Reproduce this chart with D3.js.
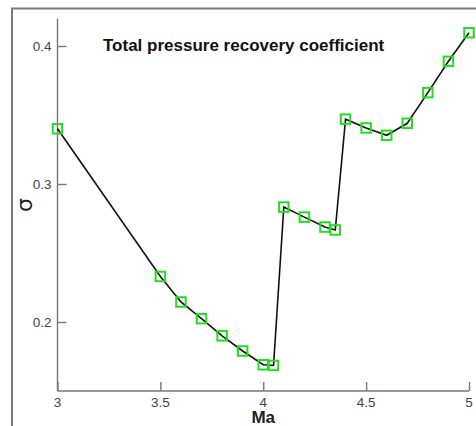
<!DOCTYPE html>
<html>
<head>
<meta charset="utf-8">
<script src="https://cdn.jsdelivr.net/npm/d3@7/dist/d3.min.js"></script>
<style>
  html, body { margin: 0; padding: 0; background: #fff; }
  svg { display: block; }
</style>
</head>
<body>
<script>
// Mach number and total pressure recovery coefficient
const mach  = [3.0, 3.5, 3.6, 3.7, 3.8, 3.9, 4.0, 4.05, 4.1, 4.2, 4.3, 4.35, 4.4, 4.5, 4.6, 4.7, 4.8, 4.9, 5.0];
const sigma = [0.340, 0.233, 0.2145, 0.2024, 0.190, 0.179, 0.169, 0.1685, 0.2833, 0.276, 0.2688, 0.2667, 0.347, 0.3406, 0.3353, 0.344, 0.3662, 0.3889, 0.4096];

const xMajor = [3, 3.5, 4, 4.5, 5];
const xMinor = d3.range(30, 51).map(v => v / 10);
const yMajor = [0.2, 0.3, 0.4];
const yMinor = d3.range(8, 22).map(v => v / 50);
const xTickLabels = ["3", "3.5", "4", "4.5", "5"];
const yTickLabels = ["0.2", "0.3", "0.4"];

const W = 476, H = 426;
const svg = d3.select("body").append("svg").attr("width", W).attr("height", H);

// figure frame
svg.append("rect").attr("x", 12).attr("y", 8.5).attr("width", W).attr("height", H)
  .attr("fill", "none").attr("stroke", "#7a7a7a").attr("stroke-width", 2);

const x = d3.scaleLinear().domain([3, 5]).range([57.5, 469]);
const y = d3.scaleLinear().domain([0.15, 0.42]).range([391, 18.4]);

const axisColor = "#777";
const textColor = "#444";
const font = "Liberation Sans, Arial, sans-serif";

// x axis (ticks pointing inward)
const gx = svg.append("g").attr("transform", `translate(0,${y(0.15)})`);
gx.call(d3.axisTop(x).tickValues(xMinor).tickSize(5).tickFormat(""));
gx.call(d3.axisTop(x).tickValues(xMajor).tickSize(9).tickFormat(""));
gx.selectAll("path, line").attr("stroke", axisColor).attr("stroke-width", 1.4);
gx.selectAll(".domain").attr("d", `M${x(3)},0H${x(5)}`);
svg.append("g").selectAll("text").data(xMajor).join("text")
  .attr("x", d => x(d)).attr("y", y(0.15) + 15.5)
  .attr("text-anchor", "middle")
  .attr("font-family", font).attr("font-size", 13.5)
  .attr("fill", textColor)
  .text((d, i) => xTickLabels[i]);

// y axis (ticks pointing inward)
const gy = svg.append("g").attr("transform", `translate(${x(3)},0)`);
gy.call(d3.axisRight(y).tickValues(yMinor).tickSize(5).tickFormat(""));
gy.call(d3.axisRight(y).tickValues(yMajor).tickSize(9).tickFormat(""));
gy.selectAll("path, line").attr("stroke", axisColor).attr("stroke-width", 1.4);
gy.selectAll(".domain").attr("d", `M0,${y(0.15)}V${y(0.42)}`);
svg.append("g").selectAll("text").data(yMajor).join("text")
  .attr("x", x(3) - 6).attr("y", d => y(d) + 5)
  .attr("text-anchor", "end")
  .attr("font-family", font).attr("font-size", 13.5)
  .attr("fill", textColor)
  .text((d, i) => yTickLabels[i]);

// axis titles
svg.append("text")
  .attr("x", (x(3) + x(5)) / 2).attr("y", 423)
  .attr("text-anchor", "middle")
  .attr("font-family", font).attr("font-size", 17)
  .attr("font-weight", "bold").attr("fill", "#222")
  .text("Ma");
svg.append("text")
  .attr("transform", "translate(32,205) rotate(-90)")
  .attr("text-anchor", "middle")
  .attr("font-family", "DejaVu Sans, sans-serif").attr("font-size", 22)
  .attr("fill", "#222")
  .text("σ");

// chart title
svg.append("text")
  .attr("x", 103).attr("y", 51)
  .attr("font-family", font).attr("font-size", 17)
  .attr("font-weight", "bold").attr("fill", "#111")
  .text("Total pressure recovery coefficient");

// data line
const pts = mach.map((m, i) => [m, sigma[i]]);
svg.append("path")
  .datum(pts)
  .attr("fill", "none").attr("stroke", "#111").attr("stroke-width", 1.6)
  .attr("d", d3.line().x(d => x(d[0])).y(d => y(d[1])));

// square markers
const s = 9.5;
svg.append("g").selectAll("rect").data(pts).join("rect")
  .attr("x", d => x(d[0]) - s / 2).attr("y", d => y(d[1]) - s / 2)
  .attr("width", s).attr("height", s)
  .attr("fill", "none").attr("stroke", "#22dd22").attr("stroke-width", 2);
</script>
</body>
</html>
